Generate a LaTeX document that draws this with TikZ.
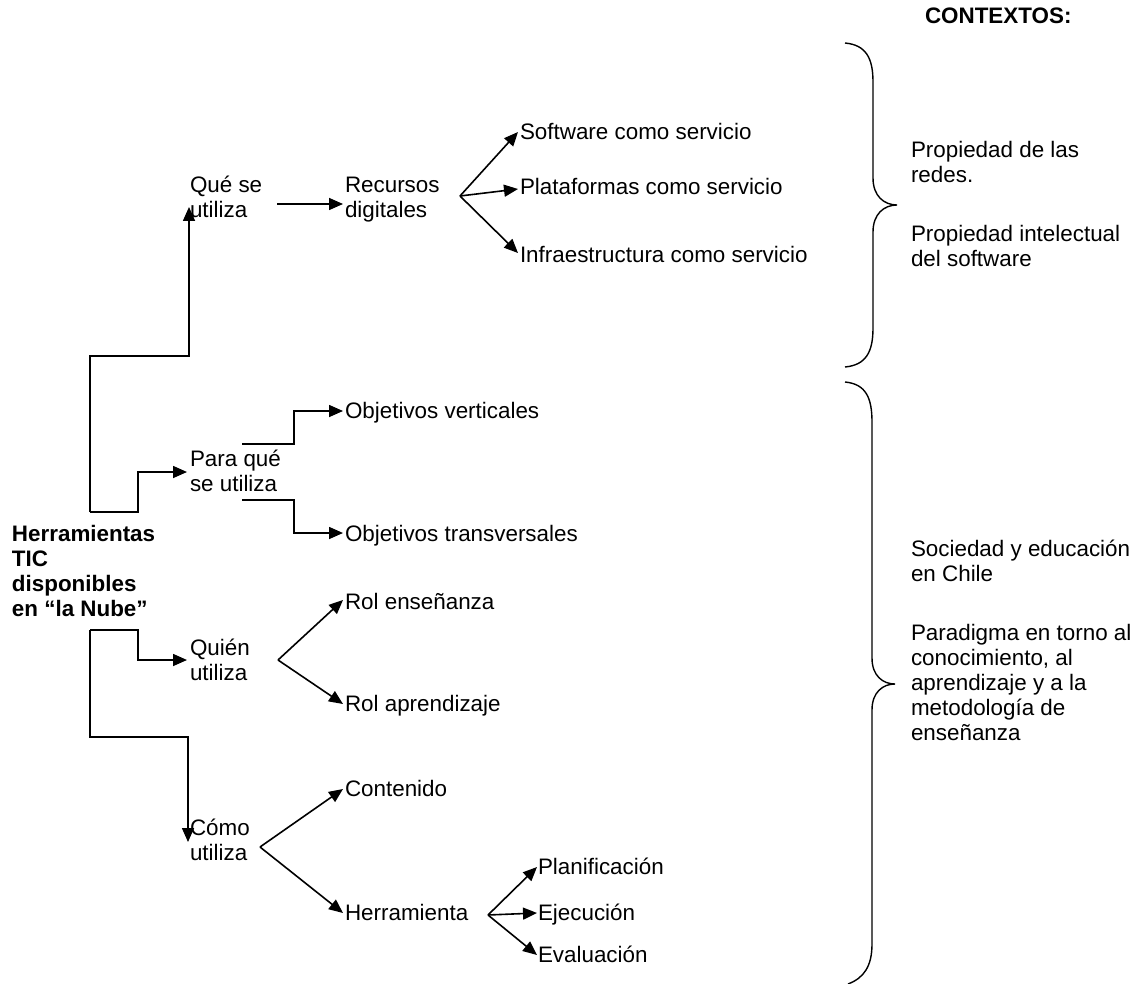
\documentclass[tikz,border=0pt]{standalone}
\usepackage{fontspec}
\setmainfont{Liberation Sans}
\usetikzlibrary{arrows.meta}
\newcommand\mlines[1]{\begin{tabular}[t]{@{}l@{}}#1\end{tabular}}
\begin{document}
\begin{tikzpicture}[x=1pt,y=-1pt,
  txt/.style={inner sep=0pt, outer sep=0pt, anchor=base west, font=\fontsize{22.4}{25}\selectfont},
  bold/.style={txt, font=\fontsize{22.4}{25}\selectfont\bfseries},
  arr/.style={line width=1.6pt, -{Triangle[length=14pt,width=12pt]}},
  brace/.style={line width=1.4pt}]
\useasboundingbox (0,0) rectangle (1140,984);

% texts
\node[bold] (root) at (12,541) {\mlines{Herramientas\\TIC\\disponibles\\en “la Nube”}};
\node[txt] (que) at (190,193) {\mlines{Qué se\\utiliza}};
\node[txt] (rec) at (345,193) {\mlines{Recursos\\digitales}};
\node[txt] (sw) at (520,140) {Software como servicio};
\node[txt] (pl) at (520,195) {Plataformas como servicio};
\node[txt] (inf) at (520,263) {Infraestructura como servicio};
\node[txt] (para) at (190,466) {\mlines{Para qué\\se utiliza}};
\node[txt] (ov) at (345,418) {Objetivos verticales};
\node[txt] (ot) at (345,541) {Objetivos transversales};
\node[txt] (quien) at (190,655) {\mlines{Quién\\utiliza}};
\node[txt] (re) at (345,609) {Rol enseñanza};
\node[txt] (ra) at (345,711) {Rol aprendizaje};
\node[txt] (como) at (190,835) {\mlines{Cómo\\utiliza}};
\node[txt] (cont) at (345,796) {Contenido};
\node[txt] (herr) at (345,920) {Herramienta};
\node[txt] (plan) at (538,874) {Planificación};
\node[txt] (ejec) at (538,920) {Ejecución};
\node[txt] (eval) at (538,962) {Evaluación};
\node[bold] (ctx) at (925,24) {CONTEXTOS:};
\node[txt] (c1) at (911,158) {\mlines{Propiedad de las\\redes.}};
\node[txt] (c2) at (911,242) {\mlines{Propiedad intelectual\\del software}};
\node[txt] (c3) at (911,556) {\mlines{Sociedad y educación\\en Chile}};
\node[txt] (c4) at (911,640) {\mlines{Paradigma en torno al\\conocimiento, al\\aprendizaje y a la\\metodología de\\enseñanza}};

% junctions and tips
\coordinate (j1) at (90,512);
\coordinate (j2) at (90,630);
\coordinate (queT) at ([xshift=-1pt,yshift=-14pt]que.base west);
\coordinate (paraT) at ([xshift=-3pt,yshift=-6pt]para.base west);
\coordinate (quienT) at ([xshift=-3pt,yshift=-5pt]quien.base west);
\coordinate (comoT) at ([xshift=-2pt,yshift=-7pt]como.base west);
\coordinate (qs) at ([xshift=87pt,yshift=-11pt]que.base west);
\coordinate (recT) at ([xshift=-2pt,yshift=-11pt]rec.base west);
\coordinate (rb) at ([xshift=115pt,yshift=-3pt]rec.base west);
\coordinate (swT) at ([xshift=-2pt,yshift=8pt]sw.base west);
\coordinate (plT) at ([xshift=-2pt,yshift=6pt]pl.base west);
\coordinate (infT) at ([xshift=-2pt,yshift=10pt]inf.base west);
\coordinate (p1) at ([xshift=52pt,yshift=22pt]para.base west);
\coordinate (p2) at ([xshift=52pt,yshift=-34pt]para.base west);
\coordinate (ovT) at ([xshift=-2pt,yshift=7pt]ov.base west);
\coordinate (otT) at ([xshift=-2pt,yshift=8pt]ot.base west);
\coordinate (qb) at ([xshift=88pt,yshift=-5pt]quien.base west);
\coordinate (reT) at ([xshift=-2pt,yshift=9pt]re.base west);
\coordinate (raT) at ([xshift=-2pt,yshift=7pt]ra.base west);
\coordinate (cb) at ([xshift=70pt,yshift=-12pt]como.base west);
\coordinate (contT) at ([xshift=-2pt,yshift=7pt]cont.base west);
\coordinate (herrT) at ([xshift=-2pt,yshift=7pt]herr.base west);
\coordinate (hb) at ([xshift=143pt,yshift=5pt]herr.base west);
\coordinate (planT) at ([xshift=-1pt,yshift=7pt]plan.base west);
\coordinate (ejecT) at ([xshift=-1pt,yshift=7pt]ejec.base west);
\coordinate (evalT) at ([xshift=-1pt,yshift=7pt]eval.base west);

% root connectors
\draw[arr] (j1) -- ++(0,-156) -| (queT);
\draw[arr] (j1) -- ++(48,0) |- (paraT);
\draw[arr] (j2) -- ++(48,0) |- (quienT);
\draw[arr] (j2) -- ++(0,107) -| (comoT);

% branches
\draw[arr] (qs) -- (recT);
\draw[arr] (rb) -- (swT);
\draw[arr] (rb) -- (plT);
\draw[arr] (rb) -- (infT);
\draw[arr] (p1) -- ++(52,0) |- (ovT);
\draw[arr] (p2) -- ++(52,0) |- (otT);
\draw[arr] (qb) -- (reT);
\draw[arr] (qb) -- (raT);
\draw[arr] (cb) -- (contT);
\draw[arr] (cb) -- (herrT);
\draw[arr] (hb) -- (planT);
\draw[arr] (hb) -- (ejecT);
\draw[arr] (hb) -- (evalT);

% braces
\draw[brace] (845,43) .. controls (866,45) and (873,58) .. (873,82) -- (873,178)
  .. controls (873,196) and (884,205) .. (897,205)
  .. controls (884,205) and (873,214) .. (873,232) -- (873,328)
  .. controls (873,352) and (866,365) .. (845,367);
\draw[brace] (845,382) .. controls (866,384) and (872,398) .. (872,422) -- (872,658)
  .. controls (872,676) and (883,684) .. (895,684)
  .. controls (883,684) and (872,692) .. (872,710) -- (872,944)
  .. controls (872,966) and (864,978) .. (848,984);
\end{tikzpicture}
\end{document}
